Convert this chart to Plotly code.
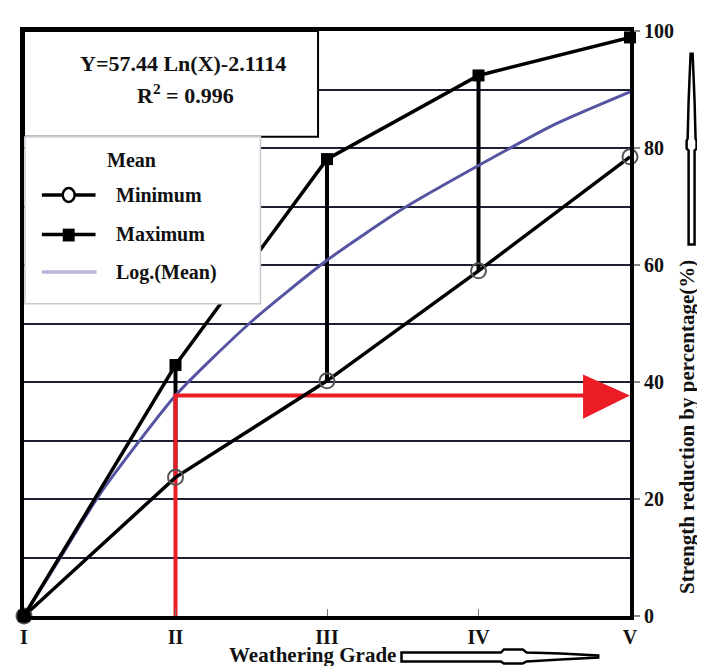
import plotly.graph_objects as go

# ---------------- data ----------------
grades = [1, 2, 3, 4, 5]
grade_labels = ["I", "II", "III", "IV", "V"]
minimum = [0, 23.7, 40.2, 59.0, 78.5]
maximum = [0, 42.9, 78.1, 92.4, 98.9]
# logarithmic trend line of the mean
log_x = [1, 1.25, 1.5, 2, 2.5, 3, 3.5, 4, 4.5, 5]
log_mean = [0, 10.4, 20.8, 37.7, 50.3, 60.8, 69.6, 77.0, 84.0, 89.6]
y_ticks = [0, 20, 40, 60, 80, 100]
indicator_grade = 2
indicator_value = 37.7
equation = "Y=57.44 Ln(X)-2.1114"
r2_text = "R<sup>2</sup> = 0.996"

# ---------------- layout geometry (page pixels of the reference) ----------------
OFF = 8                      # browser body margin
W, H = 705 - OFF, 666 - OFF
L, R, T, B = 20, 630, 24, 616   # plot area in page pixels
FONT = "Liberation Serif"


def px(x):
    return (x - L) / (R - L)


def py(y):
    return (B - y) / (B - T)


fig = go.Figure()

# vertical range connectors (min -> max) at II, III, IV
cx, cy = [], []
for g, lo, hi in zip(grades[1:4], minimum[1:4], maximum[1:4]):
    cx += [g, g, None]
    cy += [lo, hi, None]
fig.add_trace(go.Scatter(x=cx, y=cy, mode="lines", line=dict(color="black", width=4),
                         showlegend=False, hoverinfo="skip"))

# log trend
fig.add_trace(go.Scatter(x=log_x, y=log_mean, mode="lines", name="Log.(Mean)",
                         line=dict(color="#5454a0", width=3, shape="spline", smoothing=0.6),
                         showlegend=False))

# red indicator
fig.add_trace(go.Scatter(x=[indicator_grade, indicator_grade, 4.8],
                         y=[0, indicator_value, indicator_value],
                         mode="lines", line=dict(color="#ec1c24", width=4),
                         showlegend=False, hoverinfo="skip", cliponaxis=False))

# minimum
fig.add_trace(go.Scatter(x=grades, y=minimum, mode="lines+markers", name="Minimum",
                         line=dict(color="black", width=3.5),
                         marker=dict(symbol="circle-open", size=15, color="#555",
                                     line=dict(width=2)),
                         showlegend=False, cliponaxis=False))
# maximum
fig.add_trace(go.Scatter(x=grades, y=maximum, mode="lines+markers", name="Maximum",
                         line=dict(color="black", width=3.5),
                         marker=dict(symbol="square", size=12, color="black"),
                         showlegend=False, cliponaxis=False))
# origin dot
fig.add_trace(go.Scatter(x=[grades[0]], y=[minimum[0]], mode="markers",
                         marker=dict(symbol="circle", size=14, color="black"),
                         showlegend=False, cliponaxis=False, hoverinfo="skip"))

shapes = []
# red arrowhead (data coords)
shapes.append(dict(type="path", xref="x", yref="y",
                   path=f"M 4.69 {indicator_value+3.6} L 5 {indicator_value} L 4.69 {indicator_value-4.0} Z",
                   fillcolor="#ec1c24", line=dict(width=0)))

# equation box
shapes.append(dict(type="rect", xref="paper", yref="paper",
                   x0=px(20), x1=px(316), y0=py(131), y1=py(24),
                   fillcolor="white", line=dict(color="black", width=2)))
# legend box
shapes.append(dict(type="rect", xref="paper", yref="paper",
                   x0=px(21), x1=px(258), y0=py(300), y1=py(131),
                   fillcolor="white", line=dict(color="#c8c8d0", width=1.5)))
# legend samples
for yy in (190, 230):
    shapes.append(dict(type="line", xref="paper", yref="paper",
                       x0=px(38), x1=px(92), y0=py(yy), y1=py(yy),
                       line=dict(color="black", width=3.5)))
shapes.append(dict(type="circle", xref="paper", yref="paper",
                   x0=px(59), x1=px(71), y0=py(197), y1=py(183),
                   fillcolor="white", line=dict(color="black", width=2.5)))
shapes.append(dict(type="rect", xref="paper", yref="paper",
                   x0=px(59), x1=px(71), y0=py(237), y1=py(224),
                   fillcolor="black", line=dict(width=0)))
shapes.append(dict(type="line", xref="paper", yref="paper",
                   x0=px(38), x1=px(93), y0=py(268), y1=py(268),
                   line=dict(color="#b4b4de", width=3.5)))

# up hollow arrow (right)
ux = 692
up_pts = [(ux - 3, 240), (ux - 3, 145), (ux - 5, 143), (ux - 5, 135), (ux - 4, 133),
          (ux - 3, 95), (ux - 2, 70), (ux - 1, 47), (ux + 1, 47), (ux + 2, 70), (ux + 3, 95),
          (ux + 4, 133), (ux + 5, 135), (ux + 5, 143), (ux + 3, 145), (ux + 3, 240)]
shapes.append(dict(type="path", xref="paper", yref="paper",
                   path="M " + " L ".join(f"{px(a):.5f} {py(b):.5f}" for a, b in up_pts) + " Z",
                   fillcolor="white", line=dict(color="black", width=2.5)))
# right hollow arrow (bottom)
ry = 657
r_pts = [(400, ry - 4), (500, ry - 4), (503, ry - 7), (522, ry - 7), (526, ry - 4),
         (560, ry - 3), (598, ry - 1), (598, ry + 1), (560, ry + 3), (526, ry + 5),
         (522, ry + 7), (503, ry + 7), (500, ry + 5), (400, ry + 5)]
shapes.append(dict(type="path", xref="paper", yref="paper",
                   path="M " + " L ".join(f"{px(a):.5f} {py(b):.5f}" for a, b in r_pts) + " Z",
                   fillcolor="white", line=dict(color="black", width=2.5)))


def txt(text, x, y, size=21, xanchor="center", angle=0):
    return dict(text=f"<b>{text}</b>", x=px(x), y=py(y), xref="paper", yref="paper",
                xanchor=xanchor, yanchor="middle", textangle=angle, showarrow=False,
                font=dict(family=FONT, size=size, color="#111"))


ann = [
    txt(equation, 180, 57, 22),
    txt(r2_text, 183, 88, 22),
    txt("Mean", 128, 155, 20),
    txt("Minimum", 111, 190, 20, "left"),
    txt("Maximum", 111, 229, 20, "left"),
    txt("Log.(Mean)", 111, 268, 20, "left"),
    txt("Weathering Grade", 310, 655, 21),
    txt("Strength reduction by percentage(%)", 688, 425, 21, angle=-90),
]

fig.update_layout(
    width=W, height=H,
    margin=dict(l=L - OFF, r=W - (R - OFF), t=T - OFF, b=H - (B - OFF)),
    paper_bgcolor="white", plot_bgcolor="white",
    shapes=shapes, annotations=ann,
    xaxis=dict(range=[1, 5], tickvals=grades, ticktext=[f"<b>{t}</b>" for t in grade_labels],
               showgrid=False, zeroline=False, showline=True, mirror=True,
               linecolor="black", linewidth=4, ticks="inside", ticklen=7,
               tickcolor="#777", tickwidth=1, ticklabelstandoff=0,
               tickfont=dict(family=FONT, size=20, color="#111")),
    yaxis=dict(range=[0, 100], side="right", tickvals=y_ticks,
               ticktext=[f"<b>{v}</b>" for v in y_ticks],
               showgrid=True, gridcolor="#1e1e32", gridwidth=1.5,
               minor=dict(dtick=10, showgrid=True, gridcolor="#1e1e32", gridwidth=1.5),
               zeroline=False, showline=True, mirror=True, linecolor="black", linewidth=4,
               ticks="outside", ticklen=6, tickcolor="#888", tickwidth=1.5,
               tickfont=dict(family=FONT, size=20, color="#111")),
)

fig.write_html("out.html")
